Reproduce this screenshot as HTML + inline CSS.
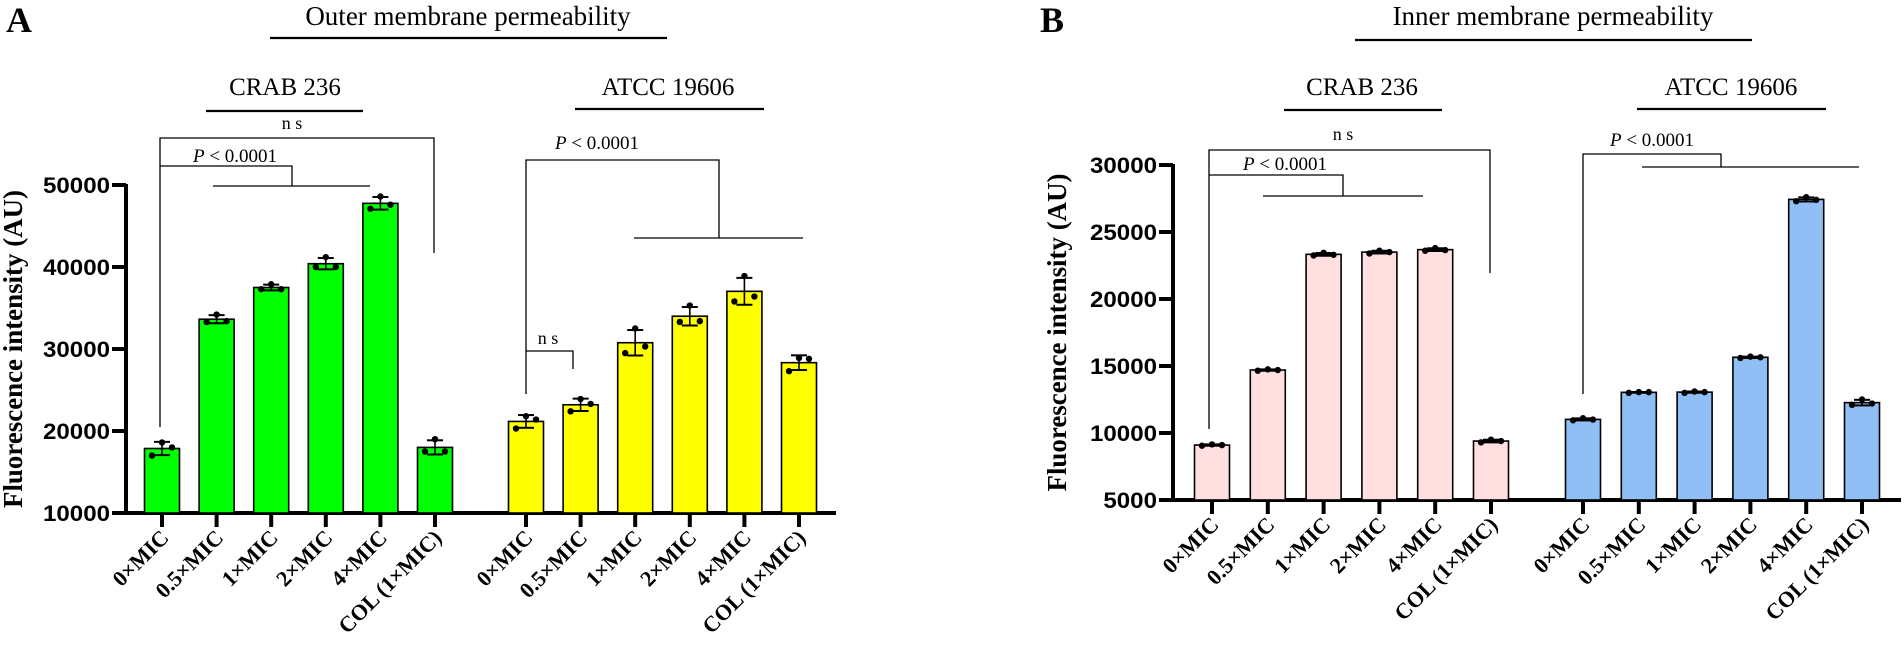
<!DOCTYPE html>
<html><head><meta charset="utf-8"><style>
html,body{margin:0;padding:0;background:#fff;}
svg{display:block;}
</style></head><body>
<svg id="fig" width="1904" height="649" viewBox="0 0 1904 649" xmlns="http://www.w3.org/2000/svg"></svg>
<script>
const categories = ["0×MIC","0.5×MIC","1×MIC","2×MIC","4×MIC","COL (1×MIC)"];
const yTicksA = [10000,20000,30000,40000,50000];
const yTicksB = [5000,10000,15000,20000,25000,30000];
// replicates (3 per bar)
const outerCrab = [[18600,17000,18000],[34200,33300,33400],[37900,37300,37300],[41200,40000,40000],[48600,47100,47600],[19000,17500,17500]];
const outerAtcc = [[21800,20300,21400],[23900,22400,23300],[32500,29500,30300],[35300,33300,33400],[38900,35800,36400],[28900,27300,28800]];
const innerCrab = [[9150,9050,9100],[14750,14650,14700],[23450,23250,23300],[23600,23400,23500],[23800,23600,23650],[9500,9300,9400]];
const innerAtcc = [[11100,10950,11000],[13050,13000,13050],[13100,13000,13050],[15700,15600,15650],[27600,27300,27400],[12500,12100,12200]];

const NS="http://www.w3.org/2000/svg";
const svg=document.getElementById('fig');
function el(tag,attrs,parent){const e=document.createElementNS(NS,tag);for(const k in attrs)e.setAttribute(k,attrs[k]);(parent||svg).appendChild(e);return e;}
function txt(s,attrs,parent){const t=el('text',attrs,parent);t.textContent=s;return t;}
const mean=a=>a.reduce((p,c)=>p+c,0)/a.length;
const sd=a=>{const m=mean(a);return Math.sqrt(a.reduce((p,c)=>p+(c-m)*(c-m),0)/(a.length-1));};
const serif='"Liberation Serif", serif';
const sans='"Liberation Sans", sans-serif';

function panel(o){
  const g=el('g',{});
  
  
  const y=v=>o.y0-(v-o.vmin)*(o.y0-o.y1)/(o.vmax-o.vmin);
  // y label
  const yl=txt("Fluorescence intensity (AU)",{x:0,y:0,transform:`translate(${o.ylx},${(o.y0+o.y1)/2}) rotate(-90)`,'text-anchor':'middle','font-family':serif,'font-weight':'bold','font-size':27,textLength:318,lengthAdjust:'spacingAndGlyphs'},g);
  
  
  // axes
  const ax=el('path',{d:`M${o.ax},${o.y1-1} V${o.y0} H${o.axEnd}`,stroke:'#000','stroke-width':4,fill:'none'},g);
  
  
  o.ticks.forEach(t=>{
    el('line',{x1:o.ax-14,x2:o.ax,y1:y(t),y2:y(t),stroke:'#000','stroke-width':4},g);
    const tl=txt(String(t),{x:o.ax-16,y:y(t)+8,'text-anchor':'end','font-family':sans,'font-weight':'bold','font-size':22,textLength:String(t).length*13.4,lengthAdjust:'spacingAndGlyphs'},g);
    
    
  });
  o.groups.forEach(gr=>{
    gr.data.forEach((reps,i)=>{
      const cx=gr.x0+i*o.step, m=mean(reps), s=sd(reps);
      const b=el('rect',{x:cx-17.5,y:y(m),width:35,height:o.y0-y(m),fill:gr.color,stroke:'#000','stroke-width':1.6},g);
      
      
      el('line',{x1:cx,x2:cx,y1:y(m+s),y2:y(m-s),stroke:'#000','stroke-width':1.6},g);
      el('line',{x1:cx-8,x2:cx+8,y1:y(m+s),y2:y(m+s),stroke:'#000','stroke-width':2},g);
      el('line',{x1:cx-8,x2:cx+8,y1:y(m-s),y2:y(m-s),stroke:'#000','stroke-width':2},g);
      reps.forEach((r,k)=>{
        const d=el('circle',{cx:cx+(k===0?0:(k===1?-10:10)),cy:y(r),r:3.2,fill:'#000'},g);
        
        
      });
      el('line',{x1:cx,x2:cx,y1:o.y0,y2:o.y0+14,stroke:'#000','stroke-width':4},g);
      const xl=txt(categories[i],{x:0,y:0,transform:`translate(${cx+8},${o.y0+26}) rotate(-45)`,'text-anchor':'end','font-family':serif,'font-weight':'bold','font-size':22},g);
      
      
    });
  });
  return {g,y};
}
function line(d,w){const p=el('path',{d,stroke:'#000','stroke-width':w||1.3,fill:'none'});return p;}
function label(s,x,yy,size,ital){
  const t=el('text',{x,y:yy,'text-anchor':'middle','font-family':serif,'font-size':size});
  if(ital){const a=el('tspan',{'font-style':'italic'},t);a.textContent='P';const b=el('tspan',{},t);b.textContent=' < 0.0001';}
  else t.textContent=s;
  
  
  return t;
}

// Panel A
panel({name:'panel-a',ax:126,axEnd:836,y0:513,y1:185,vmin:10000,vmax:50000,ticks:yTicksA,step:54.6,ylx:22,
  groups:[{key:'crab',x0:162,color:'#00ff00',data:outerCrab},{key:'atcc',x0:526,color:'#ffff00',data:outerAtcc}]});
// Panel B
panel({name:'panel-b',ax:1173,axEnd:1901,y0:500,y1:165,vmin:5000,vmax:30000,ticks:yTicksB,step:55.8,ylx:1066,
  groups:[{key:'crab',x0:1212,color:'#ffdfe0',data:innerCrab},{key:'atcc',x0:1583,color:'#8fbff5',data:innerAtcc}]});

// Panel letters and titles
let t=txt("A",{x:6,y:32,'font-family':serif,'font-weight':'bold','font-size':36});
t=txt("B",{x:1040,y:32,'font-family':serif,'font-weight':'bold','font-size':36});
t=label("Outer membrane permeability",468,25,27);
line("M270,38 H667",2.2);
t=label("Inner membrane permeability",1553,25,27);
line("M1355,40 H1752",2.2);
t=label("CRAB 236",285,95,25);
line("M206,111 H363",2.2);
t=label("ATCC 19606",668,95,25);
line("M575,109 H764",2.2);
t=label("CRAB 236",1362,95,25);
line("M1284,110 H1442",2.2);
t=label("ATCC 19606",1731,95,25);
line("M1637,109 H1826",2.2);

// Brackets A
label("n s",292,129,18);
line("M160,427 V138 H434 V253");
label("",235,162,19,true);
line("M160,166 H292 V186");
line("M213,186 H370");
label("",597,149,19,true);
line("M526,394 V160 H719 V238");
line("M634,238 H803");
label("n s",548,344,18);
line("M526,351 H573 V369");
// Brackets B
label("n s",1343,140,18);
line("M1209,429 V150 H1490 V273");
label("",1285,170,19,true);
line("M1209,175 H1343 V196");
line("M1263,196 H1423");
label("",1652,146,19,true);
line("M1583,394 V154 H1721 V167");
line("M1642,167 H1859");
</script>
</body></html>
